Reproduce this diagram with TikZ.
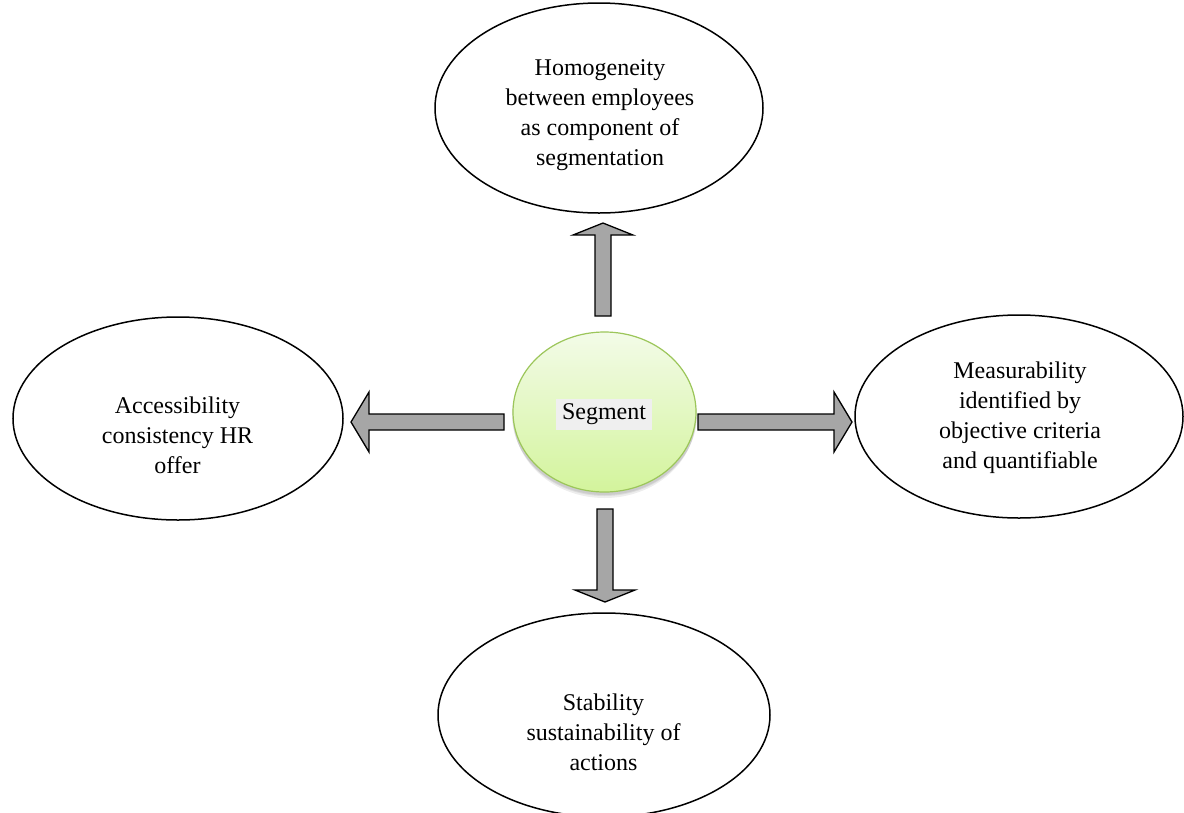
\documentclass[tikz,border=0pt]{standalone}
\usepackage{fontspec}
\setmainfont{Liberation Serif}
\usetikzlibrary{shapes.geometric,calc}

\definecolor{arrowgray}{HTML}{A6A6A6}
\definecolor{segtop}{HTML}{F3FBE8}
\definecolor{segbot}{HTML}{D3F49C}
\definecolor{segline}{HTML}{9CC65A}
\definecolor{labelbg}{HTML}{EFEFEF}

\begin{document}
\begin{tikzpicture}[x=1pt,y=-1pt,
  idea/.style={ellipse, draw=black, line width=1.5pt, fill=white, inner sep=0pt},
  ideatext/.style={align=center, font=\fontsize{24}{30}\selectfont, inner sep=0pt},
  % thick block arrow from the start point to the tip; #1 = head length
  blockarrow/.style={draw=black, line width=1.3pt, fill=arrowgray, line join=miter,
    to path={let \p1=($(\tikztotarget)-(\tikztostart)$), \n1={atan2(\y1,\x1)} in
      -- ($(\tikztostart)+(\n1+90:8pt)$)
      -- ($(\tikztotarget)+(\n1+180:#1pt)+(\n1+90:8pt)$)
      -- ($(\tikztotarget)+(\n1+180:#1pt)+(\n1+90:30pt)$)
      -- (\tikztotarget)
      -- ($(\tikztotarget)+(\n1+180:#1pt)+(\n1-90:30pt)$)
      -- ($(\tikztotarget)+(\n1+180:#1pt)+(\n1-90:8pt)$)
      -- ($(\tikztostart)+(\n1-90:8pt)$)
      -- cycle}},
  shadowring/.style={fill=black, opacity=0.07}
]
\useasboundingbox (0,0) rectangle (1184,812);
\fill[white] (0,0) rectangle (1184,812);

% outer ideas
\node[idea, minimum width=328pt, minimum height=210pt] (hom) at (599,108) {};
\node[idea, minimum width=330pt, minimum height=203pt] (acc) at (178,418.5) {};
\node[idea, minimum width=328pt, minimum height=203pt] (mea) at (1019,416.5) {};
\node[idea, minimum width=332pt, minimum height=204pt] (sta) at (604,715) {};

\node[ideatext] (homT) at ($(hom.center)+(1,7)$)
  {Homogeneity\\between employees\\as component of\\segmentation};
\node[ideatext] (accT) at ($(acc.center)+(-0.5,16.5)$)
  {Accessibility\\consistency HR\\offer};
\node[ideatext] (meaT) at ($(mea.center)+(1,1.5)$)
  {Measurability\\identified by\\objective criteria\\and quantifiable};
\node[ideatext] (staT) at ($(sta.center)+(-0.5,17.5)$)
  {Stability\\sustainability of\\actions};

% soft shadow under the central segment
\fill[shadowring] (604.5,418) ellipse [x radius=91, y radius=80];
\fill[shadowring] (604.5,416) ellipse [x radius=92, y radius=80];
\fill[shadowring] (604.5,414.5) ellipse [x radius=92.5, y radius=80.5];

% central segment
\node[ellipse, draw=segline, line width=1.2pt, top color=segtop, bottom color=segbot,
  minimum width=183pt, minimum height=160pt, inner sep=0pt] (seg) at (604.5,412) {};
\node[fill=labelbg, inner xsep=6pt, inner ysep=0pt, minimum height=31pt,
  font=\fontsize{24}{30}\selectfont] (segL) at (604,414.5) {Segment};

% arrow ends
\coordinate (upS) at (603,316);   \coordinate (upT) at (603,223);
\coordinate (dnS) at (605,509);   \coordinate (dnT) at (605,602);
\coordinate (lfS) at (504,422);   \coordinate (lfT) at (351,422);
\coordinate (rtS) at (698,422);   \coordinate (rtT) at (852,422);

\draw[blockarrow=12] (upS) to (upT);
\draw[blockarrow=12] (dnS) to (dnT);
\draw[blockarrow=18] (lfS) to (lfT);
\draw[blockarrow=18] (rtS) to (rtT);
\end{tikzpicture}
\end{document}
